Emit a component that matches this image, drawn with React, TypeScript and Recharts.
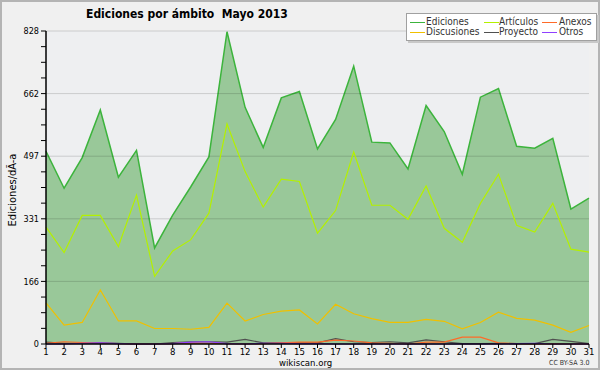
import React from 'react';
import { ComposedChart, Area, Line, XAxis, YAxis, ReferenceLine, ReferenceArea } from 'recharts';

const days = [1, 2, 3, 4, 5, 6, 7, 8, 9, 10, 11, 12, 13, 14, 15, 16, 17, 18, 19, 20, 21, 22, 23, 24, 25, 26, 27, 28, 29, 30, 31];
const ediciones = [510, 412, 493, 619, 441, 512, 254, 341, 416, 495, 826, 626, 520, 651, 668, 516, 594, 735, 534, 532, 463, 631, 562, 449, 653, 676, 523, 518, 544, 357, 386];
const articulos = [309, 242, 340, 340, 258, 394, 179, 246, 276, 346, 582, 456, 362, 436, 430, 293, 353, 508, 367, 367, 330, 418, 306, 269, 372, 449, 314, 296, 372, 251, 243];
const discusiones = [109, 50, 57, 143, 61, 61, 41, 41, 39, 44, 108, 61, 78, 87, 90, 53, 105, 80, 67, 57, 57, 65, 60, 40, 57, 84, 68, 63, 50, 31, 49];
const anexos = [2, 6, 4, 2, 1, 0, 0, 1, 3, 2, 1, 0, 1, 3, 5, 5, 10, 8, 3, 2, 0, 5, 5, 18, 18, 3, 1, 0, 1, 0, 0];
const proyecto = [5, 2, 2, 3, 2, 0, 0, 4, 6, 6, 5, 12, 3, 3, 3, 3, 14, 6, 4, 6, 3, 11, 6, 1, 1, 2, 1, 1, 12, 7, 1];
const otros = [0, 0, 2, 3, 1, 0, 0, 1, 5, 6, 1, 0, 2, 2, 1, 1, 0, 0, 0, 0, 0, 0, 0, 0, 0, 0, 1, 2, 0, 0, 0];

const yMax = 828;
const majorTicks = [0, 165.6, 331.2, 496.8, 662.4, 828];
const allTicks = Array.from({ length: 21 }, (_, i) => (i * yMax) / 20);
const title = 'Ediciones por ámbito  Mayo 2013';
const yLabel = 'Ediciones/dÃ-a';

const series = [
  { key: 'ediciones', name: 'Ediciones', color: '#3cb43c' },
  { key: 'articulos', name: 'Artículos', color: '#b4f000' },
  { key: 'anexos', name: 'Anexos', color: '#ff6a28' },
  { key: 'discusiones', name: 'Discusiones', color: '#f0c000' },
  { key: 'proyecto', name: 'Proyecto', color: '#505050' },
  { key: 'otros', name: 'Otros', color: '#9040ff' },
];

const data = days.map((d, i) => ({
  day: d,
  ediciones: ediciones[i],
  articulos: articulos[i],
  discusiones: discusiones[i],
  anexos: anexos[i],
  proyecto: proyecto[i],
  otros: otros[i],
}));

const font = '"DejaVu Sans Condensed", "DejaVu Sans", sans-serif';

const LegendBox = () => {
  const lineX = [3, 77, 135];
  const textX = [19, 92, 152];
  return (
    <div style={{ position: 'absolute', left: 404, top: 11, width: 189, height: 26, background: '#fff', border: '1px solid #a0a0a0', boxShadow: '2px 2px 0 #c8c8c8', fontFamily: font, fontSize: 10, color: '#333' }}>
      {series.map((s, i) => {
        const col = i % 3;
        const row = Math.floor(i / 3);
        const top = row === 0 ? 3 : 13;
        return (
          <React.Fragment key={s.key}>
            <div style={{ position: 'absolute', left: lineX[col], top: top + 5, width: 15, height: 1, background: s.color }} />
            <div style={{ position: 'absolute', left: textX[col], top: top, lineHeight: '10px', height: 10, whiteSpace: 'nowrap' }}>{s.name}</div>
          </React.Fragment>
        );
      })}
    </div>
  );
};

export default function App() {
  return (
    <div style={{ position: 'absolute', left: 0, top: 0, width: 600, height: 370, background: '#f0f0f0', boxSizing: 'border-box', border: '2px solid #b4b4b4', fontFamily: font }}>
      <div style={{ position: 'absolute', left: -2, top: -2 }}>
        <ComposedChart width={600} height={370} data={data} margin={{ top: 31, right: 11, bottom: 0, left: 0 }}>
          <ReferenceArea x1={1} x2={31} y1={0} y2={yMax} fill="#eeeff1" fillOpacity={1} stroke="none" />
          {majorTicks.slice(1).map((t) => (
            <ReferenceLine key={t} y={t} stroke="#000" strokeOpacity={0.15} strokeWidth={1} />
          ))}
          <XAxis
            dataKey="day"
            type="number"
            domain={[1, 31]}
            ticks={days}
            interval={0}
            height={26}
            tickSize={4}
            tick={{ fontSize: 9.5, fill: '#000', fontFamily: font, dy: -2 }}
            stroke="#000"
            tickLine={{ stroke: '#000' }}
            axisLine={{ stroke: '#000', strokeWidth: 1.5 }}
          />
          <YAxis
            type="number"
            domain={[0, yMax]}
            ticks={allTicks}
            interval={0}
            width={46}
            tickSize={5}
            tickFormatter={(v: number) => (majorTicks.some((m) => Math.abs(m - v) < 0.01) ? String(Math.round(v)) : '')}
            tick={{ fontSize: 9, fill: '#000', fontFamily: font }}
            stroke="#000"
            axisLine={{ stroke: '#000', strokeWidth: 1.5 }}
          />
          <Area type="linear" dataKey="ediciones" stroke="#3cb43c" strokeWidth={1.5} fill="#44a242" fillOpacity={0.5} isAnimationActive={false} dot={false} />
          <Line type="linear" dataKey="articulos" stroke="#b4f000" strokeWidth={1.2} dot={false} isAnimationActive={false} />
          <Line type="linear" dataKey="discusiones" stroke="#f0c000" strokeWidth={1.2} dot={false} isAnimationActive={false} />
          <Line type="linear" dataKey="proyecto" stroke="#505050" strokeWidth={1.2} dot={false} isAnimationActive={false} />
          <Line type="linear" dataKey="anexos" stroke="#ff6a28" strokeWidth={1.2} dot={false} isAnimationActive={false} />
          <Line type="linear" dataKey="otros" stroke="#9040ff" strokeWidth={1.2} dot={false} isAnimationActive={false} />
        </ComposedChart>
      </div>
      <LegendBox />
      <div style={{ position: 'absolute', left: 84, top: 5, fontSize: 12, fontWeight: 'bold', color: '#000', whiteSpace: 'pre' }}>{title}</div>
      <div style={{ position: 'absolute', left: 10, top: 188, transform: 'translate(-50%, -50%) rotate(-90deg)', fontSize: 11, color: '#000', whiteSpace: 'nowrap' }}>{yLabel}</div>
      <div style={{ position: 'absolute', left: 277, top: 355, fontSize: 9.5, lineHeight: '11px', color: '#000', whiteSpace: 'nowrap' }}>wikiscan.org</div>
      <div style={{ position: 'absolute', left: 547, top: 357, fontSize: 7, lineHeight: '9px', color: '#333', whiteSpace: 'nowrap' }}>CC BY-SA 3.0</div>
    </div>
  );
}
